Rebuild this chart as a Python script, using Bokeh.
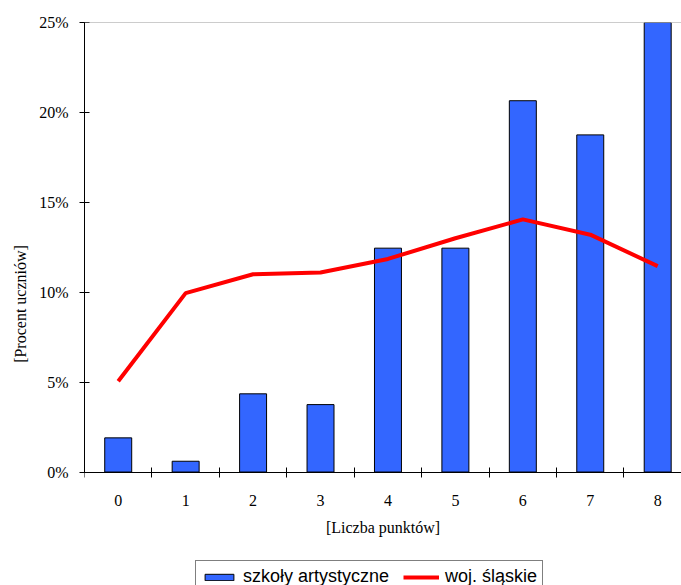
from bokeh.plotting import figure
from bokeh.models import ColumnDataSource, FixedTicker, PrintfTickFormatter, Range1d, Legend, LegendItem, Span
from bokeh.embed import file_html
from bokeh.resources import INLINE

categories = ["0", "1", "2", "3", "4", "5", "6", "7", "8"]
szkoly_artystyczne = [1.9, 0.6, 4.35, 3.75, 12.45, 12.45, 20.65, 18.75, 25.0]
woj_slaskie = [5.05, 9.95, 11.0, 11.1, 11.85, 13.0, 14.05, 13.2, 11.45]
y_ticks = [0, 5, 10, 15, 20, 25]

xs = list(range(len(categories)))
src = ColumnDataSource(dict(x=xs, bars=szkoly_artystyczne, line=woj_slaskie))

# frame reaches the window bottom; the x axis is pinned at 0 so the legend can sit below it
p = figure(frame_width=597, frame_height=563, output_backend="svg", toolbar_location=None,
           x_range=Range1d(-0.5, 8.353), y_range=Range1d(-6.31, 25),
           min_border_left=84, min_border_right=0, min_border_top=22, min_border_bottom=0)
p.outline_line_color = None
p.xgrid.visible = False
p.ygrid.visible = False
p.background_fill_color = "white"
p.border_fill_color = "white"

top_line = Span(location=25, dimension="width", line_color="#999999", line_width=1)
p.add_layout(top_line)

bars = p.vbar(x="x", top="bars", bottom=0, width=0.4, source=src, fill_color="#3366FF",
              line_color="black", line_width=1)
ln = p.line(x="x", y="line", source=src, line_color="#FF0000", line_width=4)

# x axis
p.xaxis.fixed_location = 0
p.xaxis.ticker = FixedTicker(ticks=xs, minor_ticks=[i - 0.5 for i in range(len(categories) + 1)])
p.xaxis.major_label_overrides = {i: c for i, c in enumerate(categories)}
p.xaxis.major_tick_line_color = None
p.xaxis.major_tick_out = 5
p.xaxis.minor_tick_in = 5
p.xaxis.minor_tick_out = 5
p.xaxis.minor_tick_line_color = "black"
p.xaxis.axis_line_color = "black"
p.xaxis.major_label_standoff = 18
p.xaxis.major_label_text_font = "Liberation Serif"
p.xaxis.major_label_text_font_size = "16px"
p.xaxis.major_label_text_color = "black"
p.xaxis.axis_label = "[Liczba punktów]"
p.xaxis.axis_label_text_font = "Liberation Serif"
p.xaxis.axis_label_text_font_size = "16px"
p.xaxis.axis_label_text_font_style = "normal"
p.xaxis.axis_label_text_color = "black"
p.xaxis.axis_label_standoff = 9

# y axis
p.yaxis.bounds = (0, 25)
p.yaxis.ticker = FixedTicker(ticks=y_ticks, minor_ticks=[])
p.yaxis.formatter = PrintfTickFormatter(format="%d%%")
p.yaxis.major_tick_in = 5
p.yaxis.major_tick_out = 5
p.yaxis.major_tick_line_color = "black"
p.yaxis.axis_line_color = "black"
p.yaxis.major_label_standoff = 11
p.yaxis.major_label_text_font = "Liberation Serif"
p.yaxis.major_label_text_font_size = "16px"
p.yaxis.major_label_text_color = "black"
p.yaxis.axis_label = "[Procent uczniów]"
p.yaxis.axis_label_text_font = "Liberation Serif"
p.yaxis.axis_label_text_font_size = "16px"
p.yaxis.axis_label_text_font_style = "normal"
p.yaxis.axis_label_text_color = "black"
p.yaxis.axis_label_standoff = 7

legend = Legend(items=[LegendItem(label="szkoły artystyczne", renderers=[bars]),
                       LegendItem(label="woj. śląskie", renderers=[ln])],
                orientation="horizontal", location=(111, -8),
                border_line_color="black", border_line_width=1,
                label_text_font="Liberation Sans", label_text_font_size="18px",
                label_text_color="black",
                glyph_width=36, glyph_height=8, label_standoff=6, spacing=14,
                padding=5, margin=0, label_height=18)
p.add_layout(legend, "center")

open("out.html", "w").write(file_html(p, INLINE))
